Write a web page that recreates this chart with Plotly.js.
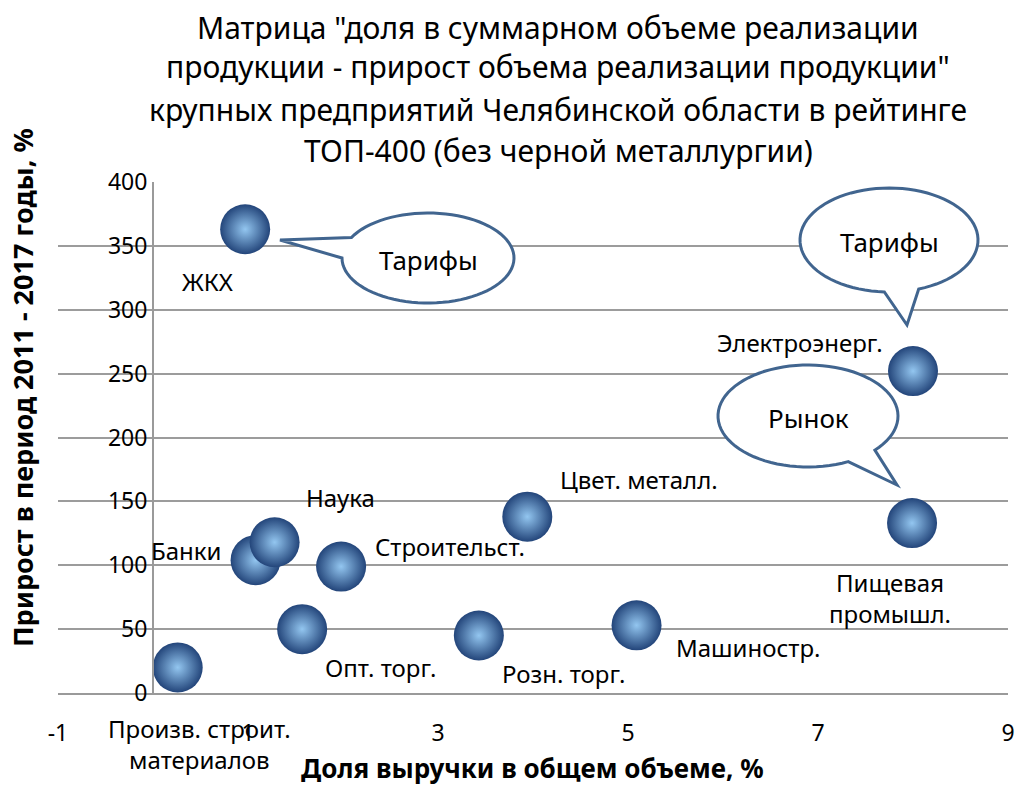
<!DOCTYPE html>
<html><head><meta charset="utf-8">
<script src="https://cdn.plot.ly/plotly-3.0.1.min.js"></script>
<style>body{margin:0;background:#fff}</style>
</head><body><div id="chart" style="width:1016px;height:787px"></div>
<script>
// ---- data ----
const industries = ["ЖКХ","Произв. строит.<br>материалов","Банки","Наука","Строительст.","Опт. торг.","Розн. торг.","Машиностр.","Цвет. металл.","Электроэнерг.","Пищевая<br>промышл."];
const revenueShare = [0.97, 0.26, 1.08, 1.28, 1.98, 1.57, 3.43, 5.09, 3.94, 8.00, 7.99];
const salesGrowth = [363, 20, 104, 118, 99, 50, 45, 53, 138, 252, 133];
const xTickVals = [-1, 1, 3, 5, 7, 9];
const xTickLabels = ["-1", "1", "3", "5", "7", "9"];
const yTickVals = [0, 50, 100, 150, 200, 250, 300, 350, 400];
const titleLines = ['Матрица "доля в суммарном объеме реализации', 'продукции - прирост объема реализации продукции"', 'крупных предприятий Челябинской области в рейтинге', 'ТОП-400 (без черной металлургии)'];
const calloutTexts = ["Тарифы", "Тарифы", "Рынок"];

// ---- layout geometry ----
const W = 1016, H = 787, ML = 58, MR = 8, MT = 182, MB = 94;
const XR = [-1, 9], YR = [0, 400];
const PW = W - ML - MR, PH = H - MT - MB;
const px2x = px => XR[0] + (px - ML) / PW * (XR[1] - XR[0]);
const py2y = py => YR[0] + (H - MB - py) / PH * (YR[1] - YR[0]);
const px2paper = px => (px - ML) / PW;
const py2paper = py => (H - MB - py) / PH;

const FONT = "Noto Sans, Open Sans, sans-serif";

// label pixel offsets from bubble centres (same order as industries)
const labelShift = [[-38,-52],[22,-77],[-70,10],[66,45],[109,20],[78,-38],[85,-38],[111,-22],[112,37],[-113,29],[-22,-75]];

const annotations = [];
industries.forEach((name, i) => {
  annotations.push({x: revenueShare[i], y: salesGrowth[i], xref:'x', yref:'y', text: name, showarrow:false,
    xshift: labelShift[i][0], yshift: labelShift[i][1], font:{family:FONT, size:24, color:'#000'}, align:'center'});
});

// title lines
const titleY = [28, 67, 109, 150];
titleLines.forEach((t, i) => {
  annotations.push({xref:'paper', yref:'paper', x: px2paper(558), y: py2paper(titleY[i]), text: t, showarrow:false,
    xanchor:'center', yanchor:'middle', font:{family:FONT, size:30, color:'#000'}});
});

// axis titles
annotations.push({xref:'paper', yref:'paper', x: px2paper(22), y: py2paper(388), text:'<b>Прирост в период 2011 - 2017 годы, %</b>',
  textangle:-90, showarrow:false, xanchor:'center', yanchor:'middle', font:{family:FONT, size:27, color:'#000'}});
annotations.push({xref:'paper', yref:'paper', x: px2paper(532), y: py2paper(768), text:'<b>Доля выручки в общем объеме, %</b>',
  showarrow:false, xanchor:'center', yanchor:'middle', font:{family:FONT, size:26, color:'#000'}});

// callouts: ellipse centre, radii, angles (deg) of the gap, tip
const callouts = [
  {cx:428, cy:258, rx:86, ry:45, a0:207, a1:540, tip:[280,240]},
  {cx:889, cy:240, rx:89, ry:52, a0:93, a1:430.5, tip:[907,325]},
  {cx:808, cy:416, rx:90, ry:51, a0:63.5, a1:402, tip:[897,485]}
];
const shapes = callouts.map(c => {
  let d = '';
  const n = 80;
  for (let k = 0; k <= n; k++) {
    const a = (c.a0 + (c.a1 - c.a0) * k / n) * Math.PI / 180;
    const px = c.cx + c.rx * Math.cos(a), py = c.cy + c.ry * Math.sin(a);
    d += (k === 0 ? 'M' : 'L') + px2x(px).toFixed(4) + ',' + py2y(py).toFixed(3);
  }
  d += 'L' + px2x(c.tip[0]).toFixed(4) + ',' + py2y(c.tip[1]).toFixed(3) + 'Z';
  return {type:'path', xref:'x', yref:'y', path:d, fillcolor:'#ffffff', line:{color:'#41658f', width:3}, layer:'above'};
});
callouts.forEach((c, i) => {
  annotations.push({xref:'x', yref:'y', x: px2x(c.cx), y: py2y(c.cy + 2), text: calloutTexts[i], showarrow:false,
    font:{family:FONT, size:26, color:'#000'}});
});

const trace = {
  type:'scatter', mode:'markers', x: revenueShare, y: salesGrowth, text: industries, hoverinfo:'text',
  marker:{size:50, color:'#23457a', gradient:{type:'radial', color:'#93c6f0'}, line:{width:0}},
  cliponaxis:false
};

const layout = {
  width:W, height:H, margin:{l:ML, r:MR, t:MT, b:MB, pad:0},
  paper_bgcolor:'#fff', plot_bgcolor:'#fff', showlegend:false,
  xaxis:{range:XR, tickvals:xTickVals, ticktext:xTickLabels, ticks:'outside', ticklen:18, tickcolor:'rgba(0,0,0,0)',
    showgrid:false, zeroline:false, showline:true, linecolor:'#9a9a9a', linewidth:2,
    tickfont:{family:FONT, size:23, color:'#000'}},
  yaxis:{range:YR, tickvals:yTickVals, anchor:'free', position: (0 - XR[0]) / (XR[1] - XR[0]),
    ticks:'', showgrid:true, gridcolor:'#9c9c9c', gridwidth:2, zeroline:false, showline:true, linecolor:'#9a9a9a', linewidth:2,
    tickfont:{family:FONT, size:23, color:'#000'}},
  annotations, shapes
};
Plotly.newPlot('chart', [trace], layout, {displayModeBar:false, staticPlot:true});
</script></body></html>
